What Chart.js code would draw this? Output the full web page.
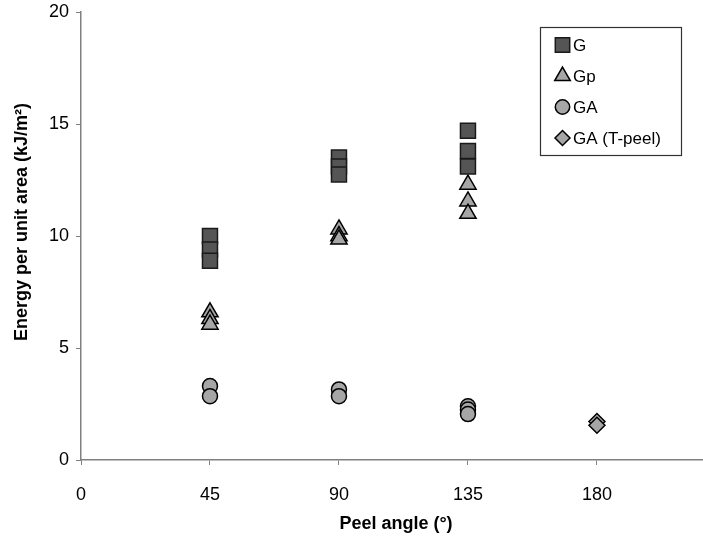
<!DOCTYPE html>
<html>
<head>
<meta charset="utf-8">
<script src="https://cdn.jsdelivr.net/npm/chart.js@4.4.0/dist/chart.umd.min.js"></script>
<style>
  html, body { margin: 0; padding: 0; background: #fff; }
  #wrap { width: 703px; height: 543px; }
</style>
</head>
<body>
<div id="wrap"><canvas id="c" width="703" height="543"></canvas></div>
<script>
// Peel test energies (kJ/m^2) by peel angle (degrees)
const seriesNames = ['G', 'Gp', 'GA', 'GA (T-peel)'];

const gAngles  = [45, 45, 45, 90, 90, 90, 135, 135, 135];
const gValues  = [10.0, 9.4, 8.9, 13.5, 13.1, 12.75, 14.7, 13.8, 13.1];

const gpAngles = [45, 45, 45, 90, 90, 90, 135, 135, 135];
const gpValues = [6.6, 6.3, 6.05, 10.3, 10.0, 9.85, 12.3, 11.55, 11.0];

const gaAngles = [45, 45, 90, 90, 135, 135, 135];
const gaValues = [3.3, 2.85, 3.15, 2.85, 2.4, 2.25, 2.05];

const tpAngles = [180, 180];
const tpValues = [1.72, 1.55];

const xTicks = [0, 45, 90, 135, 180];
const yTicks = [0, 5, 10, 15, 20];

const xTitle = 'Peel angle (°)';
const yTitle = 'Energy per unit area (kJ/m²)';

const pts = (xs, ys) => xs.map((x, i) => ({ x: x, y: ys[i] }));

const FONT = '"Liberation Sans", Arial, Helvetica, sans-serif';
const AXIS = '#808080';

const styles = [
  { pointStyle: 'rect',     pointRadius: 10.6, backgroundColor: '#555555', borderColor: '#1a1a1a' },
  { pointStyle: 'triangle', pointRadius: 9.4,  backgroundColor: '#a6a6a6', borderColor: '#000000' },
  { pointStyle: 'circle',   pointRadius: 7.5,  backgroundColor: '#a6a6a6', borderColor: '#000000' },
  { pointStyle: 'rectRot',  pointRadius: 8,    backgroundColor: '#a6a6a6', borderColor: '#000000' }
];

const data = [pts(gAngles, gValues), pts(gpAngles, gpValues), pts(gaAngles, gaValues), pts(tpAngles, tpValues)];

const datasets = data.map((d, i) => Object.assign({
  label: seriesNames[i],
  data: d,
  borderWidth: 1.5,
  pointHoverRadius: styles[i].pointRadius,
  showLine: false
}, styles[i]));

// Legend box and axis titles drawn on the canvas
function drawMarker(ctx, style, x, y, r) {
  ctx.beginPath();
  if (style === 'rect') {
    ctx.rect(x - r, y - r, 2 * r, 2 * r);
  } else if (style === 'triangle') {
    ctx.moveTo(x, y - r);
    ctx.lineTo(x + r * Math.sin(2 * Math.PI / 3), y + r / 2);
    ctx.lineTo(x - r * Math.sin(2 * Math.PI / 3), y + r / 2);
    ctx.closePath();
  } else if (style === 'circle') {
    ctx.arc(x, y, r, 0, Math.PI * 2);
  } else {
    ctx.moveTo(x, y - r);
    ctx.lineTo(x + r, y);
    ctx.lineTo(x, y + r);
    ctx.lineTo(x - r, y);
    ctx.closePath();
  }
  ctx.fill();
  ctx.stroke();
}

const decor = {
  id: 'decor',
  afterDraw(chart) {
    const ctx = chart.ctx;
    ctx.save();
    // legend frame
    ctx.strokeStyle = '#333';
    ctx.lineWidth = 1.2;
    ctx.fillStyle = '#fff';
    ctx.fillRect(540, 27, 142, 129);
    ctx.strokeRect(540.5, 27.5, 141, 128);
    const rows = [45, 76, 107, 138];
    const sizes = [7.2, 9.0, 7.2, 7.5];
    chart.data.datasets.forEach((ds, i) => {
      ctx.fillStyle = ds.backgroundColor;
      ctx.strokeStyle = ds.borderColor;
      ctx.lineWidth = 1.5;
      drawMarker(ctx, ds.pointStyle, 562.5, rows[i], sizes[i]);
      ctx.fillStyle = '#000';
      ctx.font = '17px ' + FONT;
      ctx.textAlign = 'left';
      ctx.textBaseline = 'middle';
      ctx.fillText(ds.label, 573, rows[i] + 1);
    });
    // axis titles
    ctx.fillStyle = '#000';
    ctx.font = 'bold 18px ' + FONT;
    ctx.textAlign = 'center';
    ctx.textBaseline = 'middle';
    ctx.fillText(xTitle, 396, 524);
    ctx.translate(22, 222);
    ctx.rotate(-Math.PI / 2);
    ctx.fillText(yTitle, 0, 0);
    ctx.restore();
  }
};

new Chart(document.getElementById('c'), {
  type: 'scatter',
  data: { datasets: datasets },
  options: {
    responsive: false,
    animation: false,
    layout: { autoPadding: false, padding: { top: 12, right: 0, left: 0, bottom: 0 } },
    plugins: { legend: { display: false }, tooltip: { enabled: false } },
    scales: {
      x: {
        type: 'linear',
        min: 0,
        max: 217,
        afterBuildTicks: s => { s.ticks = xTicks.map(v => ({ value: v })); },
        afterFit: s => { s.height = 83; s.paddingLeft = 0; s.paddingRight = 0; },
        grid: { drawOnChartArea: false, tickLength: 5, color: AXIS, lineWidth: 1 },
        border: { color: AXIS, width: 1.5 },
        ticks: { color: '#000', font: { size: 18, family: FONT }, padding: 19, maxRotation: 0 }
      },
      y: {
        min: 0,
        max: 20,
        afterBuildTicks: s => { s.ticks = yTicks.map(v => ({ value: v })); },
        afterFit: s => { s.width = 81; s.paddingTop = 0; s.paddingBottom = 0; },
        grid: { drawOnChartArea: false, tickLength: 5, color: AXIS, lineWidth: 1 },
        border: { color: AXIS, width: 1.5 },
        ticks: { color: '#000', font: { size: 18, family: FONT }, padding: 7 }
      }
    }
  },
  plugins: [decor]
});
</script>
</body>
</html>
